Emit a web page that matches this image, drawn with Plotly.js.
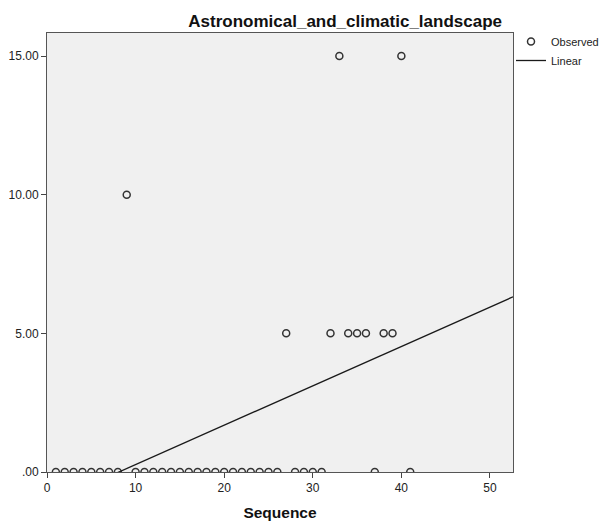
<!DOCTYPE html>
<html>
<head>
<meta charset="utf-8">
<script src="https://cdn.plot.ly/plotly-3.0.1.min.js"></script>
<style>html,body{margin:0;padding:0;background:#fff;}#chart{width:603px;height:522px;}</style>
</head>
<body>
<div id="chart"></div>
<script>
// Data
const sequence = [1,2,3,4,5,6,7,8,9,10,11,12,13,14,15,16,17,18,19,20,21,22,23,24,25,26,27,28,29,30,31,32,33,34,35,36,37,38,39,40,41];
const observed = [0,0,0,0,0,0,0,0,10,0,0,0,0,0,0,0,0,0,0,0,0,0,0,0,0,0,5,0,0,0,0,5,15,5,5,5,0,5,5,15,0];
const yTickVals = [0, 5, 10, 15];
const yTickText = ['.00', '5.00', '10.00', '15.00'];
const xTickVals = [0, 10, 20, 30, 40, 50];
const chartTitle = 'Astronomical_and_climatic_landscape';
const xTitle = 'Sequence';

const xRange = [0, 52.6];
const yRange = [0, 15.83];

// Linear fit (least squares) computed from the observed data
const n = sequence.length;
const mx = sequence.reduce((a,b)=>a+b,0)/n;
const my = observed.reduce((a,b)=>a+b,0)/n;
let sxy = 0, sxx = 0;
for (let i=0;i<n;i++){ sxy += (sequence[i]-mx)*(observed[i]-my); sxx += (sequence[i]-mx)*(sequence[i]-mx); }
const slope = sxy/sxx;
const intercept = my - slope*mx;
const fitX = [xRange[0], xRange[1]];
const fitY = fitX.map(x => intercept + slope*x);

const font = "Arial, 'Liberation Sans', sans-serif";

const traces = [
  {
    x: sequence, y: observed, type: 'scatter', mode: 'markers', name: 'Observed',
    marker: {symbol: 'circle-open', size: 7, color: '#333', line: {width: 1.5, color: '#333'}},
    cliponaxis: true
  },
  {
    x: fitX, y: fitY, type: 'scatter', mode: 'lines', name: 'Linear',
    line: {color: '#1a1a1a', width: 1.3}
  }
];

const layout = {
  width: 603, height: 522,
  margin: {l: 47, r: 90, t: 33, b: 50, autoexpand: false},
  paper_bgcolor: '#ffffff',
  plot_bgcolor: '#f0f0f0',
  font: {family: font, size: 12, color: '#222'},
  title: {
    text: chartTitle,
    font: {family: font, size: 17, color: '#111', weight: 'bold'},
    xref: 'container', x: 502/603, xanchor: 'right',
    yref: 'container', y: 1 - 21/522, yanchor: 'middle'
  },
  showlegend: true,
  legend: {
    xref: 'container', yref: 'container',
    x: 511/603, xanchor: 'left', y: 1 - 27/522, yanchor: 'top',
    font: {family: font, size: 11, color: '#222'},
    bgcolor: 'rgba(0,0,0,0)', tracegroupgap: 0
  },
  xaxis: {
    range: xRange, tickvals: xTickVals, ticks: 'outside', ticklen: 5, tickwidth: 1, tickcolor: '#444',
    showline: true, linecolor: '#555', linewidth: 1, mirror: true,
    showgrid: false, zeroline: false,
    tickfont: {family: font, size: 12, color: '#222'},
    title: {text: xTitle, font: {family: font, size: 15.5, color: '#111', weight: 'bold'}, standoff: 12}
  },
  yaxis: {
    range: yRange, tickvals: yTickVals, ticktext: yTickText, ticks: 'outside', ticklen: 5, tickwidth: 1, tickcolor: '#444',
    showline: true, linecolor: '#555', linewidth: 1, mirror: true,
    showgrid: false, zeroline: false,
    tickfont: {family: font, size: 12, color: '#222'}
  }
};

Plotly.newPlot('chart', traces, layout, {displayModeBar: false, staticPlot: true});
</script>
</body>
</html>
